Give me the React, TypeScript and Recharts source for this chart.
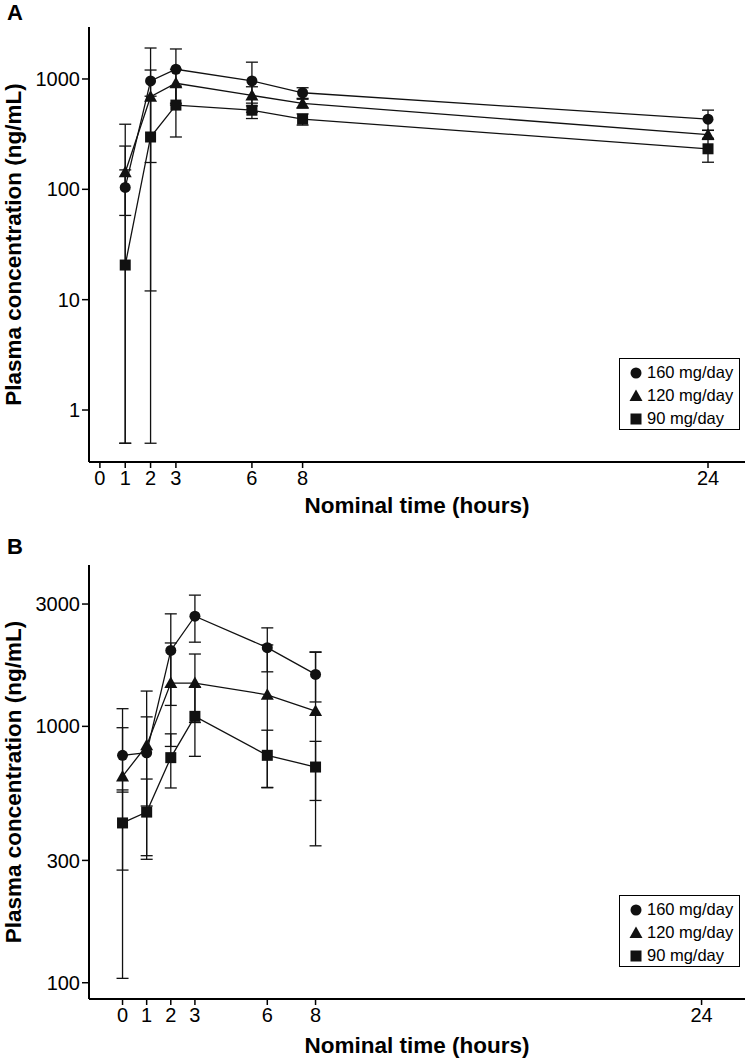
import React from 'react';
import { ComposedChart, Line, XAxis, YAxis, ErrorBar, Legend } from 'recharts';

const FONT = '"Liberation Sans", Arial, Helvetica, sans-serif';
const INK = '#111';

// panel A - time points (hours) and mean / SD per dose
const hoursA = [1, 2, 3, 6, 8, 24];
const mean160A = [104, 960, 1225, 960, 750, 432];
const sd160A = [46, 948, 645, 460, 83, 90];
const mean120A = [143, 690, 914, 710, 600, 313];
const sd120A = [246, 515, 311, 140, 55, 30];
const mean90A = [20.6, 298, 580, 521, 432, 233];
const sd90A = [226, 400, 282, 83, 50, 57];

// panel B
const hoursB = [0, 1, 2, 3, 6, 8];
const mean160B = [771, 789, 1977, 2690, 2027, 1595];
const sd160B = [217, 300, 770, 560, 395, 350];
const mean120B = [638, 843, 1475, 1475, 1328, 1147];
const sd120B = [534, 530, 640, 440, 750, 805];
const mean90B = [420, 463, 755, 1094, 771, 694];
const sd90B = [145, 160, 180, 330, 195, 180];

const xTicks = [0, 1, 2, 3, 6, 8, 24];
const yTicksA = [1, 10, 100, 1000];
const yTicksB = [100, 300, 1000, 3000];

const doses = ['160 mg/day', '120 mg/day', '90 mg/day'];
const shapes = ['circle', 'triangle', 'square'];

// log axis can't show negative lower bounds, so clip the bar at the floor
function buildRows(hours: number[], means: number[][], sds: number[][], floor: number) {
  return hours.map((t, i) => {
    const row: any = { t };
    means.forEach((m, k) => {
      const v = m[i];
      const lo = Math.max(v - sds[k][i], floor);
      row[`m${k}`] = v;
      row[`e${k}`] = [v - lo, sds[k][i]];
    });
    return row;
  });
}

const dataA = buildRows(hoursA, [mean160A, mean120A, mean90A], [sd160A, sd120A, sd90A], 0.5);
const dataB = buildRows(hoursB, [mean160B, mean120B, mean90B], [sd160B, sd120B, sd90B], 90);

function Marker({ shape, cx, cy }: { shape: string; cx: number; cy: number }) {
  if (cx == null || cy == null || isNaN(cx) || isNaN(cy)) return null;
  if (shape === 'circle') return <circle cx={cx} cy={cy} r={5.5} fill={INK} />;
  if (shape === 'triangle')
    return <polygon points={`${cx},${cy - 6.5} ${cx - 6.5},${cy + 5} ${cx + 6.5},${cy + 5}`} fill={INK} />;
  return <rect x={cx - 5.5} y={cy - 5.5} width={11} height={11} fill={INK} />;
}

const LegendBox = () => (
  <div
    style={{
      border: '1.5px solid #000',
      background: '#fff',
      boxSizing: 'border-box',
      width: 121,
      height: 72,
      padding: '2px 0 0 9px',
      fontFamily: FONT,
      fontSize: 16.5,
      lineHeight: '23px',
      color: '#000',
    }}
  >
    {doses.map((d, k) => (
      <div key={d} style={{ display: 'flex', alignItems: 'center', whiteSpace: 'nowrap' }}>
        <svg width={14} height={14} style={{ marginRight: 4 }}>
          <Marker shape={shapes[k]} cx={7} cy={7} />
        </svg>
        {d}
      </div>
    ))}
  </div>
);

const YLabel = ({ viewBox }: any) => {
  const cy = viewBox.y + viewBox.height / 2;
  return (
    <text
      x={20.5}
      y={cy}
      transform={`rotate(-90, 20.5, ${cy})`}
      textAnchor="middle"
      fontFamily={FONT}
      fontWeight="bold"
      fontSize={22.5}
      fill="#000"
    >
      Plasma concentration (ng/mL)
    </text>
  );
};

interface PanelProps {
  data: any[];
  width: number;
  height: number;
  top: number;
  xHeight: number;
  xDomain: [number, number];
  yDomain: [number, number];
  yTicks: number[];
  labelOffset: number;
  legendTop: number;
}

function Panel({ data, width, height, top, xHeight, xDomain, yDomain, yTicks, labelOffset, legendTop }: PanelProps) {
  const tickStyle = { fontSize: 20, fill: '#000', fontFamily: FONT };
  return (
    <ComposedChart width={width} height={height} data={data} margin={{ top, right: 4, bottom: 0, left: 0 }}>
      <XAxis
        type="number"
        dataKey="t"
        domain={xDomain}
        ticks={xTicks}
        interval={0}
        allowDataOverflow
        tick={tickStyle}
        tickSize={6}
        tickMargin={3}
        axisLine={{ stroke: '#000', strokeWidth: 2 }}
        tickLine={{ stroke: '#000', strokeWidth: 1.5 }}
        height={xHeight}
        label={{
          value: 'Nominal time (hours)',
          position: 'insideBottom',
          offset: labelOffset,
          style: { fontSize: 22.5, fontWeight: 'bold', fill: '#000', fontFamily: FONT },
        }}
      />
      <YAxis
        type="number"
        scale="log"
        domain={yDomain}
        ticks={yTicks}
        interval={0}
        allowDataOverflow
        width={89}
        tick={tickStyle}
        tickSize={7}
        tickMargin={2}
        axisLine={{ stroke: '#000', strokeWidth: 2 }}
        tickLine={{ stroke: '#000', strokeWidth: 1.5 }}
        label={<YLabel />}
      />
      <Legend
        layout="vertical"
        align="center"
        verticalAlign="middle"
        content={<LegendBox />}
        wrapperStyle={{ left: 619, top: legendTop, width: 121, height: 72 }}
      />
      {[0, 1, 2].map((k) => (
        <Line
          key={k}
          dataKey={`m${k}`}
          name={doses[k]}
          stroke={INK}
          strokeWidth={1.3}
          isAnimationActive={false}
          dot={(p: any) => <Marker key={`d${k}-${p.index}`} shape={shapes[k]} cx={p.cx} cy={p.cy} />}
          activeDot={false}
        >
          <ErrorBar dataKey={`e${k}`} direction="y" width={6} stroke={INK} strokeWidth={1.3} isAnimationActive={false} />
        </Line>
      ))}
    </ComposedChart>
  );
}

export default function App() {
  const letter = { position: 'absolute' as const, left: 7, fontFamily: FONT, fontWeight: 'bold', fontSize: 22, lineHeight: '22px' };
  return (
    <div style={{ position: 'absolute', left: 0, top: 0, width: 749, height: 1064, background: '#fff' }}>
      <div style={{ position: 'absolute', left: 0, top: 0 }}>
        <Panel
          data={dataA}
          width={749}
          height={530}
          top={27}
          xHeight={68}
          xDomain={[-0.43, 25.46]}
          yDomain={[0.338, 2958]}
          yTicks={yTicksA}
          labelOffset={17}
          legendTop={358}
        />
      </div>
      <div style={{ position: 'absolute', left: 0, top: 530 }}>
        <Panel
          data={dataB}
          width={749}
          height={534}
          top={35}
          xHeight={65}
          xDomain={[-1.39, 25.8]}
          yDomain={[86.4, 4260]}
          yTicks={yTicksB}
          labelOffset={11}
          legendTop={365}
        />
      </div>
      <div style={{ ...letter, top: 2 }}>A</div>
      <div style={{ ...letter, top: 536 }}>B</div>
    </div>
  );
}
